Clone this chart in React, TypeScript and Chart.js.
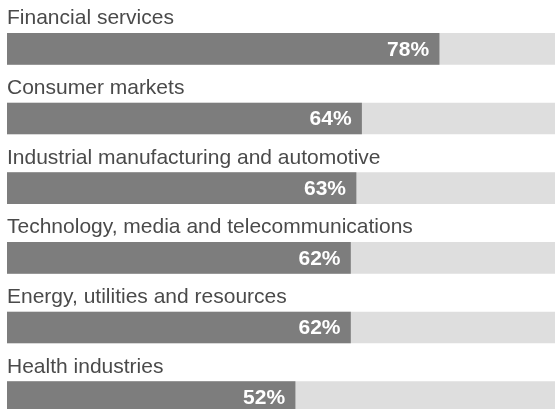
import React, { useEffect, useRef } from "react";
import { Chart, registerables } from "chart.js";

Chart.register(...registerables);

const categories = [
  "Financial services",
  "Consumer markets",
  "Industrial manufacturing and automotive",
  "Technology, media and telecommunications",
  "Energy, utilities and resources",
  "Health industries",
];
const values = [78, 64, 63, 62, 62, 52];
const track = [100, 100, 100, 100, 100, 100];

const labelPlugin = {
  id: "barLabels",
  afterDatasetsDraw(chart: any) {
    const ctx = chart.ctx;
    const meta = chart.getDatasetMeta(0);
    const left = chart.chartArea.left;
    ctx.save();
    meta.data.forEach((el: any, i: number) => {
      const top = el.y - el.height / 2;
      ctx.fillStyle = "#4a4a4a";
      ctx.font = "21px 'Liberation Sans', Arial, sans-serif";
      ctx.textAlign = "left";
      ctx.textBaseline = "alphabetic";
      ctx.fillText(categories[i], left, top - 9);
      ctx.fillStyle = "#ffffff";
      ctx.font = "bold 21px 'Liberation Sans', Arial, sans-serif";
      ctx.textAlign = "right";
      ctx.textBaseline = "middle";
      ctx.fillText(values[i] + "%", el.x - 10, el.y + 1);
    });
    ctx.restore();
  },
};

export default function App() {
  const ref = useRef<HTMLCanvasElement | null>(null);
  useEffect(() => {
    if (!ref.current) return;
    const chart = new Chart(ref.current, {
      type: "bar",
      data: {
        labels: categories,
        datasets: [
          {
            data: values,
            backgroundColor: "#7d7d7d",
            barThickness: 31,
            grouped: false,
            borderWidth: 0,
          },
          {
            data: track,
            backgroundColor: "#dedede",
            barThickness: 31,
            grouped: false,
            borderWidth: 0,
          },
        ],
      },
      options: {
        indexAxis: "y",
        animation: false,
        responsive: true,
        maintainAspectRatio: false,
        layout: { padding: { left: 7, right: 4, top: 14, bottom: 8 } },
        scales: {
          x: { display: false, min: 0, max: 100 },
          y: { display: false },
        },
        plugins: {
          legend: { display: false },
          tooltip: { enabled: false },
        },
      },
      plugins: [labelPlugin],
    });
    return () => chart.destroy();
  }, []);
  return (
    <div
      style={{
        position: "fixed",
        left: 0,
        top: 0,
        width: 555,
        height: 409,
        overflow: "hidden",
        background: "#ffffff",
      }}
    >
      <div style={{ position: "relative", width: 565, height: 440 }}>
        <canvas ref={ref} />
      </div>
    </div>
  );
}
